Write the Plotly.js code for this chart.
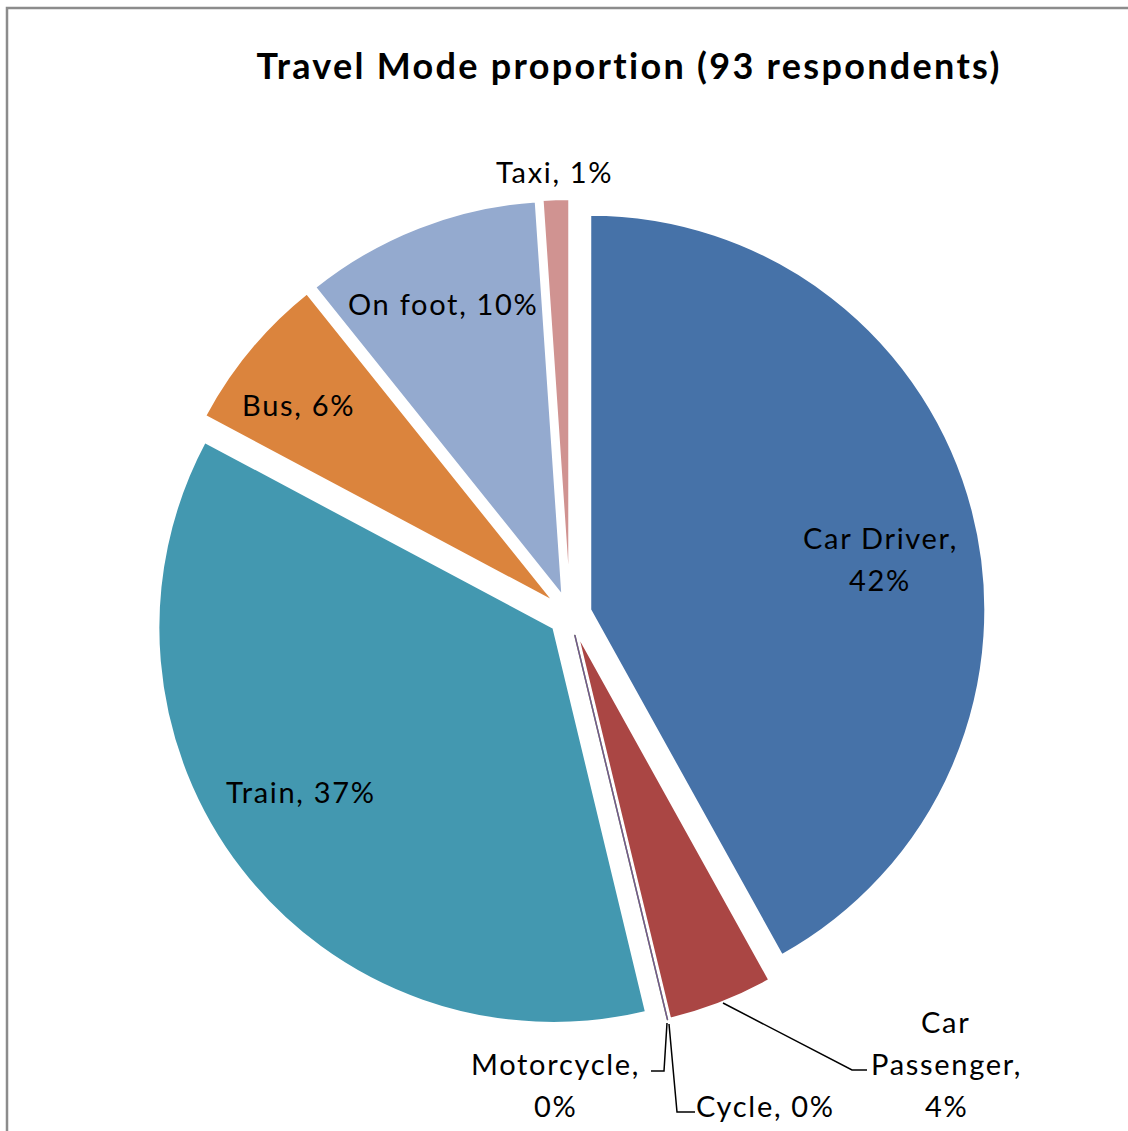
<!DOCTYPE html>
<html>
<head>
<meta charset="utf-8">
<script src="https://cdn.plot.ly/plotly-3.0.1.min.js"></script>
<style>
html,body{margin:0;padding:0;background:#fff}
#chart{width:1128px;height:1131px}
.annotation-text{letter-spacing:1.7px !important}
.gtitle{letter-spacing:2.3px !important}
</style>
</head>
<body>
<div id="chart"></div>
<script>
// ---- data ----
var modes = ["Car Driver", "Car Passenger", "Cycle", "Motorcycle", "Train", "Bus", "On foot", "Taxi"];
var respondents = [39, 4, 0, 0, 34, 6, 9, 1];
var sliceColors = ["#4672A8", "#AA4644", "#89A54E", "#71588F", "#4398B0", "#DB843D", "#94AACF", "#D09391"];
var chartTitle = "Travel Mode proportion (93 respondents)";

// ---- layout helpers ----
var W = 1128, H = 1131;
function px(x) { return x / W; }
function py(y) { return 1 - y / H; }
var total = respondents.reduce(function (a, b) { return a + b; }, 0);
var pct = respondents.map(function (v) { return Math.round(v / total * 100) + "%"; });

var FONT = "Lato, 'Noto Sans', sans-serif";
var labelPlacement = [
  { i: 0, split: [1, 1], pos: [[880, 537], [880, 579]] },
  { i: 1, split: [0, 1, 1], pos: [[945, 1021], [946, 1063], [946, 1105]] },
  { i: 2, split: [2], pos: [[765, 1105]] },
  { i: 3, split: [1, 1], pos: [[555, 1063], [555, 1105]] },
  { i: 4, split: [2], pos: [[301, 791]] },
  { i: 5, split: [2], pos: [[298, 404]] },
  { i: 6, split: [2], pos: [[443, 303]] },
  { i: 7, split: [2], pos: [[554, 172]] }
];
function linesFor(p) {
  var name = modes[p.i], val = pct[p.i];
  if (p.split.length === 1) return [name + ", " + val];
  if (p.split.length === 2) return [name + ",", val];
  var parts = name.split(" ");
  return [parts[0], parts.slice(1).join(" ") + ",", val];
}
var annotations = [];
labelPlacement.forEach(function (p) {
  var ls = linesFor(p);
  ls.forEach(function (t, k) {
    annotations.push({
      text: t, xref: "paper", yref: "paper",
      x: px(p.pos[k][0]), y: py(p.pos[k][1]),
      xanchor: "center", yanchor: "middle", showarrow: false,
      font: { family: FONT, size: 29, color: "#000" }
    });
  });
});

function pathPx(pts) {
  return pts.map(function (p, k) { return (k ? "L" : "M") + px(p[0]) + "," + py(p[1]); }).join(" ");
}
var leaderStyle = { color: "#000", width: 1.5 };
var shapes = [
  { type: "rect", xref: "paper", yref: "paper", x0: px(7), y0: py(8), x1: px(1140), y1: py(1145),
    line: { color: "#8c8c8c", width: 2.5 }, fillcolor: "rgba(0,0,0,0)", layer: "below" },
  { type: "path", xref: "paper", yref: "paper", path: pathPx([[723, 1003], [852, 1070], [867, 1070]]), line: leaderStyle },
  { type: "path", xref: "paper", yref: "paper", path: pathPx([[667, 1023], [664, 1071], [651, 1071]]), line: leaderStyle },
  { type: "path", xref: "paper", yref: "paper", path: pathPx([[669, 1024], [677, 1112], [695, 1112]]), line: leaderStyle }
];

var lineColors = respondents.map(function (v, k) { return v === 0 ? sliceColors[k] : "#ffffff"; });
var lineWidths = respondents.map(function (v) { return v === 0 ? 1.5 : 2; });

var trace = {
  type: "pie",
  labels: modes,
  values: respondents,
  sort: false,
  direction: "clockwise",
  rotation: 0,
  pull: 0.053,
  textinfo: "none",
  hoverinfo: "label+percent",
  showlegend: false,
  marker: { colors: sliceColors, line: { color: lineColors, width: lineWidths } },
  domain: { x: [0.1365, 0.8741], y: [0.0884, 0.824] }
};

var layout = {
  width: W, height: H,
  margin: { l: 0, r: 0, t: 0, b: 0, pad: 0 },
  paper_bgcolor: "#fff",
  title: {
    text: "<b>" + chartTitle + "</b>",
    x: px(629), xanchor: "center", xref: "paper",
    y: py(66), yanchor: "middle", yref: "container",
    font: { family: FONT, size: 36, color: "#000" }
  },
  annotations: annotations,
  shapes: shapes
};
Plotly.newPlot("chart", [trace], layout, { displayModeBar: false, staticPlot: true });
</script>
</body>
</html>
